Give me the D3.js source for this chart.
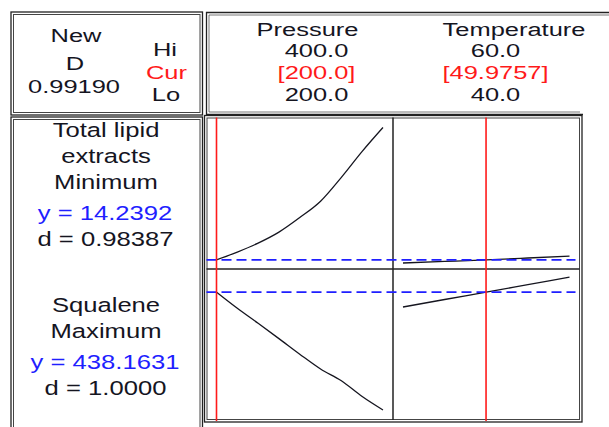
<!DOCTYPE html>
<html>
<head>
<meta charset="utf-8">
<script src="https://cdn.jsdelivr.net/npm/d3@7"></script>
<style>
  body { margin: 0; background: #fff; }
  svg { display: block; font-family: "Liberation Sans", Arial, sans-serif; }
</style>
</head>
<body>
<div id="chart"></div>
<script>
// factors (columns)
var factors = ["Pressure", "Temperature"];
var hiLabels = ["400.0", "60.0"];
var curLabels = ["[200.0]", "[49.9757]"];
var loLabels = ["200.0", "40.0"];
var factorDomains = [[200, 400], [40, 60]];
var factorCurrent = [200.0, 49.9757];

// responses (rows)
var responseNames = [["Total lipid", "extracts"], ["Squalene"]];
var goals = ["Minimum", "Maximum"];
var predicted = [14.2392, 438.1631];
var predictedLabels = ["14.2392", "438.1631"];
var desirability = ["0.98387", "1.0000"];
var compositeD = "0.99190";
var responseDomains = [[12.4, 43], [130, 494]];

// traces
var pressureGrid = [200, 225, 250, 275, 300, 325, 350, 375, 400];
var lipidByPressure = [14.24, 15.82, 17.63, 19.85, 22.79, 26.09, 30.92, 36.16, 40.99];
var squaleneByPressure = [438.2, 399.3, 363.1, 326.2, 288.6, 252.9, 224.7, 186.6, 154.1];
var tempGrid = [40, 45, 50, 55, 60];
var lipidByTemp = [13.61, 13.92, 14.24, 14.62, 15.02];
var squaleneByTemp = [402.4, 420.5, 438.2, 456.3, 474.4];

var grids = [pressureGrid, tempGrid];
var traces = [
  [lipidByPressure, lipidByTemp],
  [squaleneByPressure, squaleneByTemp]
];

var W = 609, H = 427;
var ink = "#15151f", red = "#ff1a1a", blue = "#1f1fff";

var svg = d3.select("#chart").append("svg")
  .attr("width", W).attr("height", H);

svg.append("rect").attr("width", W).attr("height", H).attr("fill", "#fff");

// the source picture is stretched sideways, so text is scaled in x
function txt(str, x, y, color, size, stretch) {
  size = size || 19;
  stretch = stretch || 1.34;
  svg.append("text")
    .attr("transform", "translate(" + x + "," + y + ") scale(" + stretch + ",1)")
    .attr("text-anchor", "middle")
    .attr("font-size", size)
    .attr("fill", color || ink)
    .text(str);
}

function box(x0, y0, x1, y1) {
  svg.append("rect")
    .attr("x", x0).attr("y", y0).attr("width", x1 - x0).attr("height", y1 - y0)
    .attr("fill", "none").attr("stroke", "#222").attr("stroke-width", 1.3);
  svg.append("rect")
    .attr("x", x0 + 2.5).attr("y", y0 + 2.5).attr("width", x1 - x0 - 5).attr("height", y1 - y0 - 5)
    .attr("fill", "none").attr("stroke", "#444").attr("stroke-width", 1);
}

// frames
box(11, 12, 202.5, 115);
box(11, 117, 202.5, 445);
box(204.5, 115.5, 582, 422);
svg.append("path")
  .attr("d", "M583,114.5H206.5V12.5H615")
  .attr("fill", "none").attr("stroke", "#222").attr("stroke-width", 1.3);
svg.append("path")
  .attr("d", "M580,112H209V15H615")
  .attr("fill", "none").attr("stroke", "#555").attr("stroke-width", 0.8);

// panel grid
var cols = [[206.5, 393], [393, 579.5]];
var rows = [[117.5, 269], [269, 420]];

var xScales = factorDomains.map(function(dom, j) {
  return d3.scaleLinear().domain(dom).range([cols[j][0] + 10, cols[j][1] - 10]);
});
var yScales = responseDomains.map(function(dom, i) {
  return d3.scaleLinear().domain(dom).range([rows[i][1], rows[i][0]]);
});

svg.append("line")
  .attr("x1", cols[0][1]).attr("x2", cols[0][1])
  .attr("y1", rows[0][0]).attr("y2", rows[1][1])
  .attr("stroke", "#222").attr("stroke-width", 1.5);
svg.append("line")
  .attr("x1", cols[0][0]).attr("x2", cols[1][1])
  .attr("y1", rows[0][1]).attr("y2", rows[0][1])
  .attr("stroke", "#222").attr("stroke-width", 1.5);

// header: composite desirability
txt("New", 76, 42);
txt("D", 75, 70);
txt(compositeD, 74, 93);
txt("Hi", 165, 56);
txt("Cur", 166.5, 78.5, red);
txt("Lo", 166, 100.5);

// header: factors
var labelX = [307.5, 514];
var valueX = [316.5, 495.5];
factors.forEach(function(f, j) {
  txt(f, labelX[j], 36);
  txt(hiLabels[j], valueX[j], 56.5);
  txt(curLabels[j], valueX[j], 78.5, red);
  txt(loLabels[j], valueX[j], 100.5);
});

// response labels
var textTop = [137, 311.5];
responseNames.forEach(function(names, i) {
  var y = textTop[i];
  names.concat([goals[i]]).forEach(function(s) {
    txt(s, 106, y, ink, 20.5, 1.25);
    y += 26;
  });
  y += 5;
  txt("y = " + predictedLabels[i], 105, y, blue, 20.5, 1.25);
  txt("d = " + desirability[i], 105.5, y + 26, ink, 20.5, 1.25);
});

// traces
var line = d3.line().curve(d3.curveMonotoneX);
traces.forEach(function(row, i) {
  row.forEach(function(vals, j) {
    var pts = grids[j].map(function(g, k) {
      return [xScales[j](g), yScales[i](vals[k])];
    });
    svg.append("path")
      .attr("d", line(pts))
      .attr("fill", "none")
      .attr("stroke", ink)
      .attr("stroke-width", 1.3);
  });
});

// predicted response reference lines
predicted.forEach(function(p, i) {
  var y = yScales[i](p);
  svg.append("line")
    .attr("x1", cols[0][0]).attr("x2", cols[1][1] - 4)
    .attr("y1", y).attr("y2", y)
    .attr("stroke", blue).attr("stroke-width", 1.6)
    .attr("stroke-dasharray", "10,5");
});

// current factor settings
factorCurrent.forEach(function(c, j) {
  var x = xScales[j](c);
  svg.append("line")
    .attr("x1", x).attr("x2", x)
    .attr("y1", rows[0][0]).attr("y2", rows[1][1] + 1)
    .attr("stroke", red).attr("stroke-width", 1.6);
});
</script>
</body>
</html>
